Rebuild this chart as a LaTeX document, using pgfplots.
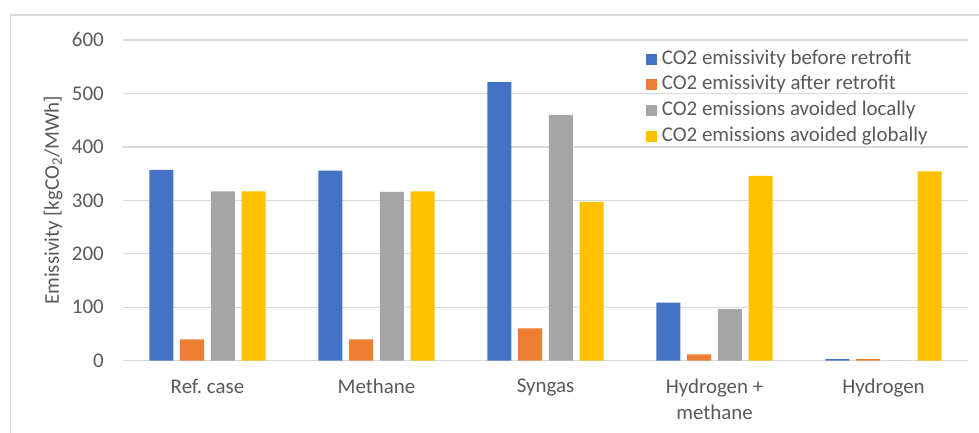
\documentclass[border=0pt]{standalone}
\usepackage{pgfplots}
\pgfplotsset{compat=1.18}
\usepackage{fontspec}
\setmainfont{Carlito}
\frenchspacing
\definecolor{txt}{HTML}{595959}
\definecolor{gridgray}{HTML}{D9D9D9}
\definecolor{cblue}{HTML}{4472C4}
\definecolor{corange}{HTML}{ED7D31}
\definecolor{cgray}{HTML}{A5A5A5}
\definecolor{cyellow}{HTML}{FFC000}
\newcommand\chartfont{\fontsize{21}{26}\selectfont}
\begin{document}
\begin{tikzpicture}
\useasboundingbox (0,0) rectangle (979bp,433bp);
\draw[gridgray, line width=1.3bp] (10.7bp,-1bp) -- (10.7bp,418bp) -- (980bp,418bp);
\begin{axis}[
  at={(123bp,72.3bp)}, anchor=south west,
  scale only axis, width=845bp, height=320.7bp,
  ybar=6.7bp, bar width=24bp,
  xmin=-0.5, xmax=4.5, ymin=0, ymax=600,
  xtick={0,1,2,3,4},
  xticklabels={Ref. case, Methane, Syngas, Hydrogen +\\methane, Hydrogen},
  ytick={0,100,200,300,400,500,600},
  ymajorgrids, grid style={gridgray, line width=1.3bp},
  axis line style={draw=none},
  major tick length=0pt,
  tick label style={txt, font=\chartfont},
  /pgf/number format/assume math mode=true,
  yticklabel style={inner sep=0pt, xshift=-19bp},
  xticklabel style={align=center, inner sep=0pt, yshift=-18bp},
  ylabel={Emissivity [kgCO\textsubscript{2}/MWh]},
  ylabel style={txt, font=\chartfont, at={(axis description cs:-0.0828,0.5)}, anchor=center},
  legend cell align=left,
  legend style={draw=none, fill=none, at={(axis description cs:0.615,0.975)}, anchor=north west,
    text=txt, font=\chartfont, row sep=7.6bp,
    nodes={inner xsep=1bp, inner ysep=0pt, text height=14bp, text depth=4bp}},
  legend image code/.code={\path (0bp,0bp) -- (15bp,0bp);
    \fill[#1] (0bp,-5.5bp) rectangle (11bp,5.5bp);},
]
\addplot[fill=cblue, draw=none] coordinates {(0,357) (1,355.5) (2,521) (3,108.5) (4,3)};
\addplot[fill=corange, draw=none] coordinates {(0,40) (1,40) (2,60.5) (3,12) (4,3)};
\addplot[fill=cgray, draw=none] coordinates {(0,317) (1,316) (2,460) (3,96.5) (4,0)};
\addplot[fill=cyellow, draw=none] coordinates {(0,317) (1,317) (2,297) (3,346) (4,354)};
\legend{CO2 emissivity before retrofit, CO2 emissivity after retrofit, CO2 emissions avoided locally, CO2 emissions avoided globally}
\end{axis}
\end{tikzpicture}
\end{document}
